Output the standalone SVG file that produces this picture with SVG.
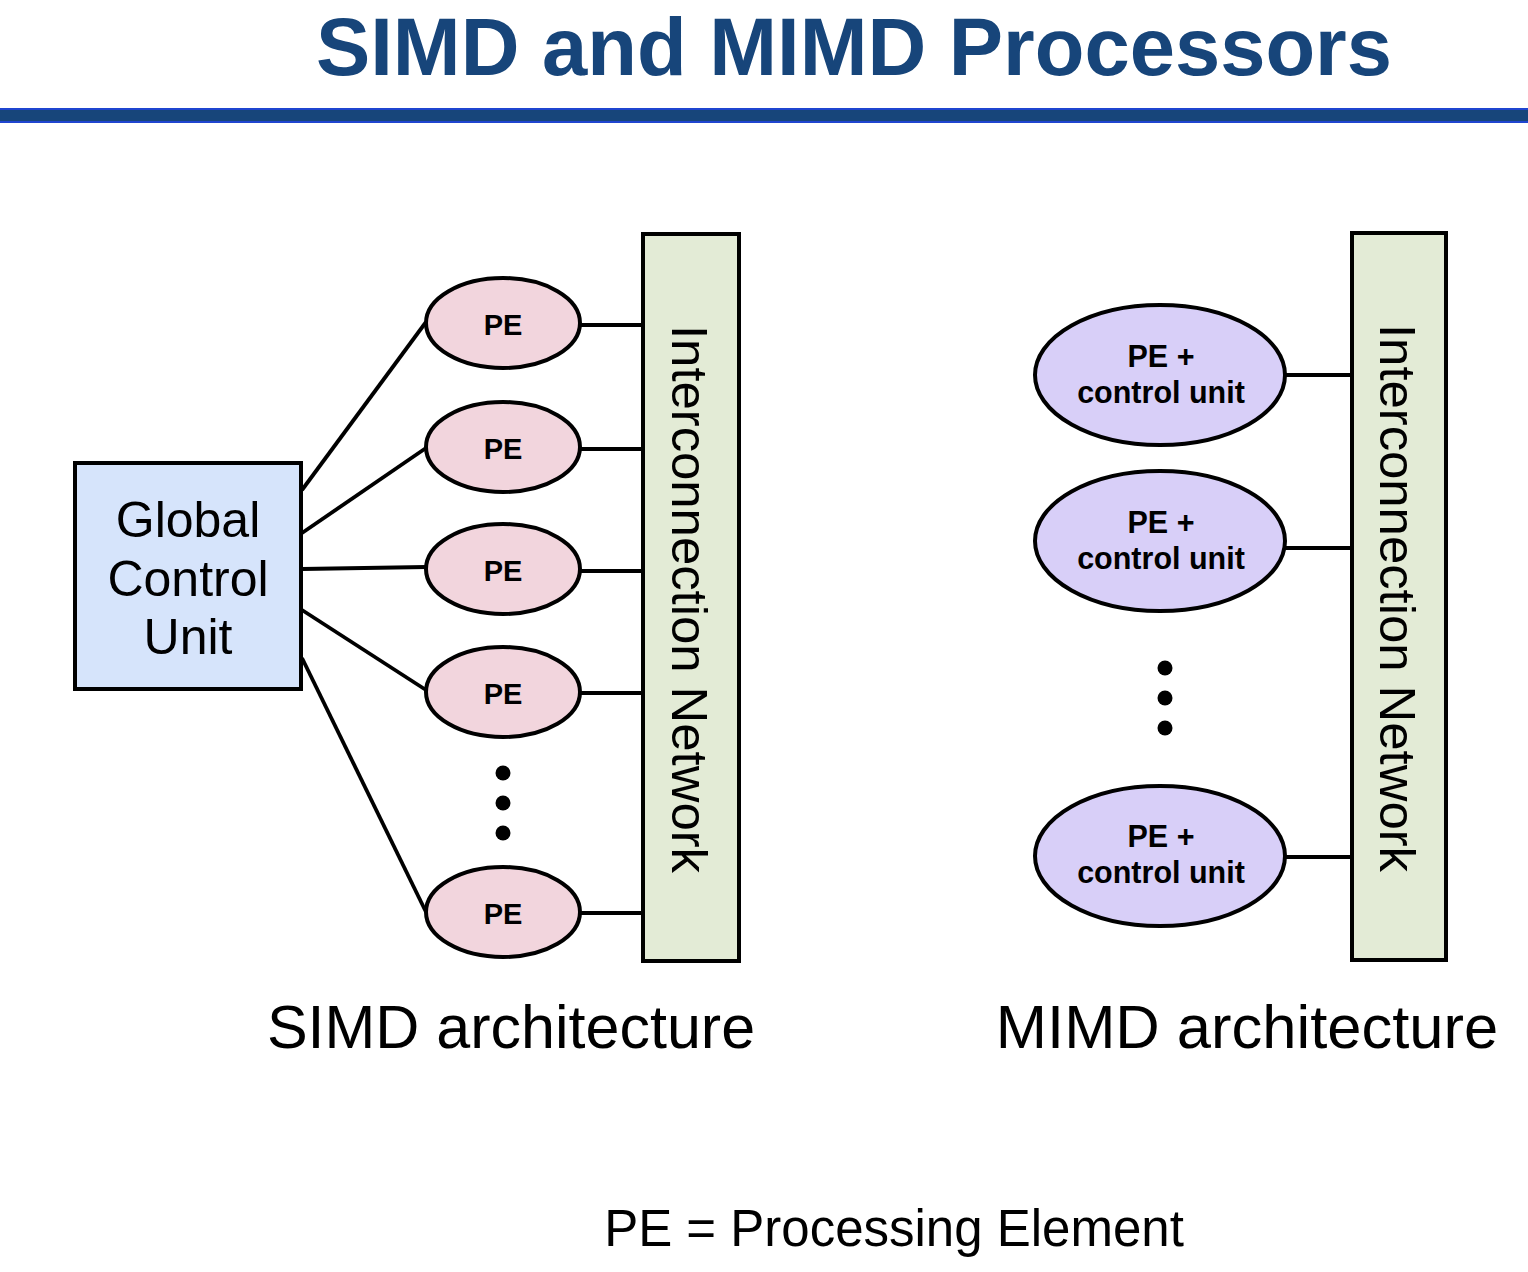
<svg xmlns="http://www.w3.org/2000/svg" width="1528" height="1272" viewBox="0 0 1528 1272">
<style>
.title{font-family:"Liberation Sans",Arial,sans-serif;font-weight:bold;font-size:82px;fill:#17457a}
.t{font-family:"Liberation Sans",Arial,sans-serif;fill:#000}
.pe{fill:#f2d5dd;stroke:#000;stroke-width:4}
.pcu{fill:#d8cff8;stroke:#000;stroke-width:4}
.net{fill:#e3ebd6;stroke:#000;stroke-width:4}
.gcu{fill:#d6e4fb;stroke:#000;stroke-width:4}
.lbl{font-family:"Liberation Sans",Arial,sans-serif;font-weight:bold;font-size:29px;text-anchor:middle}
.lbl2{font-family:"Liberation Sans",Arial,sans-serif;font-weight:bold;font-size:30.5px;text-anchor:middle}
.conn line{stroke:#000;stroke-width:3.8}
</style>
<rect width="1528" height="1272" fill="#fff"/>
<text class="title" x="316" y="75" textLength="1076" lengthAdjust="spacingAndGlyphs">SIMD and MIMD Processors</text>
<rect x="0" y="108" width="1528" height="15" fill="#17457a"/>
<rect x="0" y="108" width="1528" height="2" fill="#1f45d0"/>
<rect x="0" y="121" width="1528" height="2" fill="#1f45d0"/>

<g id="connectors" class="conn">
<line x1="302" y1="490" x2="426" y2="322"/>
<line x1="302" y1="533" x2="426" y2="448"/>
<line x1="302" y1="569" x2="426" y2="567"/>
<line x1="302" y1="610" x2="426" y2="690"/>
<line x1="302" y1="658" x2="426" y2="912"/>
<line x1="580" y1="325" x2="643" y2="325"/>
<line x1="580" y1="449" x2="643" y2="449"/>
<line x1="580" y1="571" x2="643" y2="571"/>
<line x1="580" y1="693" x2="643" y2="693"/>
<line x1="580" y1="913" x2="643" y2="913"/>
<line x1="1286" y1="375" x2="1352" y2="375"/>
<line x1="1286" y1="548" x2="1352" y2="548"/>
<line x1="1286" y1="857" x2="1352" y2="857"/>
</g>

<g id="gcu">
<rect class="gcu" x="75" y="463" width="226" height="226"/>
<text class="t" font-size="50" text-anchor="middle" x="188" y="537">Global</text>
<text class="t" font-size="50" text-anchor="middle" x="188" y="596">Control</text>
<text class="t" font-size="50" text-anchor="middle" x="188" y="654">Unit</text>
</g>

<g id="pe1"><ellipse class="pe" cx="503" cy="323" rx="77" ry="45"/><text class="lbl" x="503" y="335">PE</text></g>
<g id="pe2"><ellipse class="pe" cx="503" cy="447" rx="77" ry="45"/><text class="lbl" x="503" y="459">PE</text></g>
<g id="pe3"><ellipse class="pe" cx="503" cy="569" rx="77" ry="45"/><text class="lbl" x="503" y="581">PE</text></g>
<g id="pe4"><ellipse class="pe" cx="503" cy="692" rx="77" ry="45"/><text class="lbl" x="503" y="704">PE</text></g>
<g id="pe5"><ellipse class="pe" cx="503" cy="912" rx="77" ry="45"/><text class="lbl" x="503" y="924">PE</text></g>
<g id="dots-simd" fill="#000">
<circle cx="503" cy="773" r="7.5"/><circle cx="503" cy="803" r="7.5"/><circle cx="503" cy="833" r="7.5"/>
</g>

<g id="net-simd">
<rect class="net" x="643" y="234" width="96" height="727"/>
<text class="t" font-size="50" text-anchor="middle" transform="translate(672,599) rotate(90)" textLength="548" lengthAdjust="spacingAndGlyphs">Interconnection Network</text>
</g>

<g id="pcu1"><ellipse class="pcu" cx="1160" cy="375" rx="125" ry="70"/><text class="lbl2" x="1161" y="367">PE +</text><text class="lbl2" x="1161" y="403">control unit</text></g>
<g id="pcu2"><ellipse class="pcu" cx="1160" cy="541" rx="125" ry="70"/><text class="lbl2" x="1161" y="533">PE +</text><text class="lbl2" x="1161" y="569">control unit</text></g>
<g id="pcu3"><ellipse class="pcu" cx="1160" cy="856" rx="125" ry="70"/><text class="lbl2" x="1161" y="847">PE +</text><text class="lbl2" x="1161" y="883">control unit</text></g>
<g id="dots-mimd" fill="#000">
<circle cx="1165" cy="668" r="7.5"/><circle cx="1165" cy="698" r="7.5"/><circle cx="1165" cy="728" r="7.5"/>
</g>

<g id="net-mimd">
<rect class="net" x="1352" y="233" width="94" height="727"/>
<text class="t" font-size="50" text-anchor="middle" transform="translate(1380,598) rotate(90)" textLength="548" lengthAdjust="spacingAndGlyphs">Interconnection Network</text>
</g>

<text class="t" font-size="61" text-anchor="middle" x="511" y="1048">SIMD architecture</text>
<text class="t" font-size="61.5" text-anchor="middle" x="1247" y="1048">MIMD architecture</text>
<text class="t" font-size="51" text-anchor="middle" x="894" y="1246">PE = Processing Element</text>
</svg>
